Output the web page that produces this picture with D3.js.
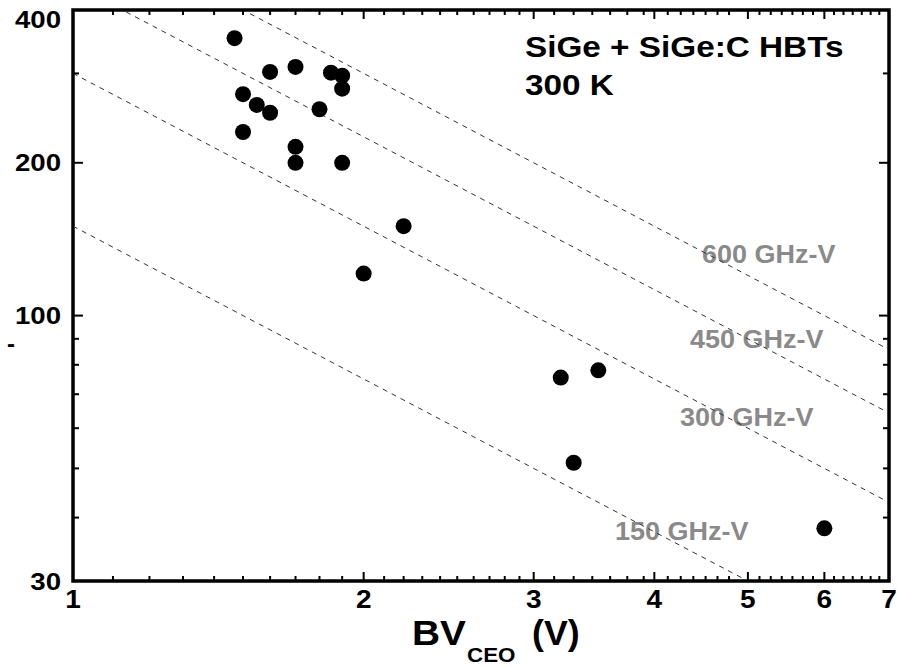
<!DOCTYPE html>
<html>
<head>
<meta charset="utf-8">
<script src="https://cdn.jsdelivr.net/npm/d3@7"></script>
<style>
  html, body { margin: 0; padding: 0; background: #fff; }
  svg { display: block; font-family: "Liberation Sans", Arial, Helvetica, sans-serif; font-weight: bold; }
</style>
</head>
<body>
<svg id="chart" width="898" height="667"></svg>
<script>
// Breakdown voltage BV_CEO (V) and peak fT (GHz) of SiGe / SiGe:C HBTs at 300 K
const bvCeo = [1.47, 1.60, 1.70, 1.85, 1.90, 1.90, 1.80, 1.50, 1.55, 1.60,
               1.50, 1.70, 1.70, 1.90, 2.20, 2.00, 3.20, 3.50, 3.30, 6.00];
const fT    = [352, 302, 309, 301, 297, 280, 255, 273, 260, 251,
               230, 215, 200, 200, 150, 121, 75.5, 78, 51.3, 38.1];

// constant fT x BV_CEO contours (GHz-V)
const products = [150, 300, 450, 600];
const productLabels = ["150 GHz-V", "300 GHz-V", "450 GHz-V", "600 GHz-V"];

// axis ticks
const xMajorTicks = [1, 2, 3, 4, 5, 6, 7];
const xMinorTicks = [1.1, 1.2, 1.3, 1.4, 1.5, 1.6, 1.7, 1.8, 1.9,
                     2.1, 2.2, 2.3, 2.4, 2.5, 2.6, 2.7, 2.8, 2.9,
                     3.15, 3.3, 3.45, 3.6, 3.75, 3.9,
                     4.13, 4.26, 4.39, 4.52, 4.65, 4.78,
                     5.14, 5.28, 5.42, 5.56, 5.7, 5.84,
                     6.14, 6.28, 6.42, 6.56, 6.7, 6.84];
const yMajorTicks = [30, 100, 200, 400];
const yMinorTicks = [40, 50, 60, 70, 80, 90, 300];
const yTickLabels = ["30", "100", "200", "400"];
const xTickLabels = ["1", "2", "3", "4", "5", "6", "7"];

const titleLines = ["SiGe + SiGe:C HBTs", "300 K"];

const svg = d3.select("#chart");
const plotLeft = 73, plotRight = 889, plotTop = 10, plotBottom = 581;

const x = d3.scaleLog().domain([1, 7]).range([plotLeft, plotRight]);
const y = d3.scaleLog().domain([30, 400]).range([plotBottom, plotTop]);

// text helper: slightly wide bold lettering
function label(g, str, px, py, size, anchor, sx, fill) {
  return g.append("text")
    .attr("transform", `translate(${px},${py}) scale(${sx},1)`)
    .attr("text-anchor", anchor)
    .attr("font-size", size)
    .attr("fill", fill || "#000")
    .text(str);
}

svg.append("defs").append("clipPath").attr("id", "plotClip")
  .append("rect").attr("x", plotLeft + 2).attr("y", plotTop + 2)
  .attr("width", plotRight - plotLeft - 8).attr("height", plotBottom - plotTop - 4);

// contour labels
const labelPos = [[615, 540], [680, 426], [690, 348], [702, 263]];
const gl = svg.append("g");
products.forEach((p, i) => {
  label(gl, productLabels[i], labelPos[i][0], labelPos[i][1], 25, "start", 1.08, "#8a8a8a");
});

// contour lines fT * BV = const
const lineGen = d3.line().x(d => x(d[0])).y(d => y(d[1]));
svg.append("g").attr("clip-path", "url(#plotClip)")
  .selectAll("path").data(products).join("path")
  .attr("d", p => lineGen([[1, p / 1], [7, p / 7]]))
  .attr("fill", "none")
  .attr("stroke", "#333")
  .attr("stroke-width", 1)
  .attr("stroke-dasharray", "5,5");

// data points
svg.append("g").selectAll("circle").data(bvCeo.map((b, i) => [b, fT[i]])).join("circle")
  .attr("cx", d => x(d[0]))
  .attr("cy", d => y(d[1]))
  .attr("r", 8)
  .attr("fill", "#000");

// frame
const axes = svg.append("g").attr("stroke", "#000");
axes.append("rect")
  .attr("x", plotLeft).attr("y", plotTop)
  .attr("width", plotRight - plotLeft).attr("height", plotBottom - plotTop)
  .attr("fill", "none").attr("stroke-width", 3.5);

// ticks on all four sides, pointing inward
function xTicks(vals, len) {
  vals.forEach(v => {
    axes.append("line").attr("x1", x(v)).attr("x2", x(v))
      .attr("y1", plotBottom).attr("y2", plotBottom - len).attr("stroke-width", 2);
    axes.append("line").attr("x1", x(v)).attr("x2", x(v))
      .attr("y1", plotTop).attr("y2", plotTop + len).attr("stroke-width", 2);
  });
}
function yTicks(vals, len) {
  vals.forEach(v => {
    axes.append("line").attr("y1", y(v)).attr("y2", y(v))
      .attr("x1", plotLeft).attr("x2", plotLeft + len).attr("stroke-width", 2);
    axes.append("line").attr("y1", y(v)).attr("y2", y(v))
      .attr("x1", plotRight).attr("x2", plotRight - len).attr("stroke-width", 2);
  });
}
xTicks(xMinorTicks, 5);
xTicks(xMajorTicks.slice(1, -1), 9);
yTicks(yMinorTicks, 6);
yTicks(yMajorTicks.slice(1, -1), 10);

// tick labels
const gt = svg.append("g");
xMajorTicks.forEach((v, i) => {
  label(gt, xTickLabels[i], x(v), 608, 25, "middle", 1.12);
});
yMajorTicks.forEach((v, i) => {
  label(gt, yTickLabels[i], 61, Math.max(y(v), 19) + 8.5, 24, "end", 1.15);
});
label(gt, "-", 7, 352, 24, "start", 1.0);

// x-axis title with subscript
const xt = svg.append("g");
label(xt, "BV", 412, 645, 35, "start", 1.11);
label(xt, "CEO", 467, 662, 20, "start", 1.12);
label(xt, "(V)", 532, 645, 35, "start", 1.02);

// annotation
const ga = svg.append("g");
label(ga, titleLines[0], 525, 57, 30, "start", 1.11);
label(ga, titleLines[1], 525, 95, 30, "start", 1.11);
</script>
</body>
</html>
